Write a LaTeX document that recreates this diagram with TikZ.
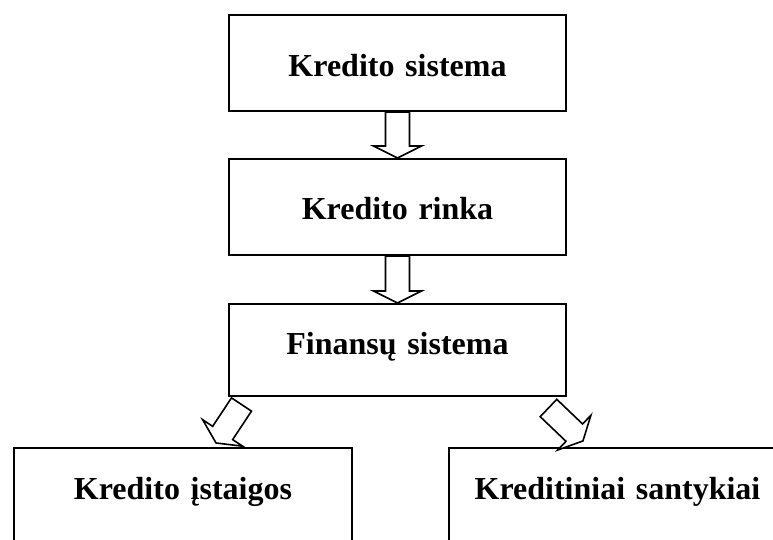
\documentclass[tikz,border=0pt]{standalone}
\usepackage{fontspec}
\setmainfont{Liberation Serif}
\usetikzlibrary{calc}

\tikzset{
  box/.style={draw, line width=2pt, inner sep=0pt, align=center,
    font=\fontsize{32}{38}\selectfont\bfseries},
  blockarr/.style={draw, fill=white, line width=1.6pt, line join=miter,
    to path={let \p1=(\tikztostart), \p2=(\tikztotarget),
      \n1={atan2(\y2-\y1,\x2-\x1)}, \n2={veclen(\x2-\x1,\y2-\y1)} in
      {[shift={(\p1)}, rotate=\n1]
        (0,-12) -- (\n2-12,-12) -- (\n2-12,-24) -- (\n2,0)
        -- (\n2-12,24) -- (\n2-12,12) -- (0,12) -- cycle}}}
}

\begin{document}
\begin{tikzpicture}[x=1pt,y=-1pt]
  \path[use as bounding box, clip] (0,0) rectangle (773,539);

  % upper chain
  \node[box, anchor=north west, text width=337pt, text height=61pt, text depth=35pt]
    (ks) at (228,14) {Kredito sistema};
  \node[box, anchor=north west, text width=337pt, text height=60pt, text depth=36pt]
    (kr) at (228,158) {Kredito rinka};
  \node[box, anchor=north west, text width=337pt, text height=50pt, text depth=42pt]
    (fs) at (228,303) {Finansų sistema};

  % lower pair, cut off by the page edge
  \node[box, anchor=north west, text width=338pt, text height=51pt, text depth=89pt]
    (ki) at (13,447) {Kredito įstaigos};
  \node[box, anchor=north west, text width=337pt, text height=51pt, text depth=89pt]
    (kst) at (448,447) {Kreditiniai santykiai};

  % hollow arrows
  \draw[blockarr] (ks.south) to (kr.north);
  \draw[blockarr] (kr.south) to (fs.north);
  \draw[blockarr] ([shift={(13.5,7.5)}]fs.south west) to ([shift={(203,-4)}]ki.north west);
  \draw[blockarr] ([shift={(-18.5,11)}]fs.south east) to ([shift={(135,-6)}]kst.north west);
\end{tikzpicture}
\end{document}
